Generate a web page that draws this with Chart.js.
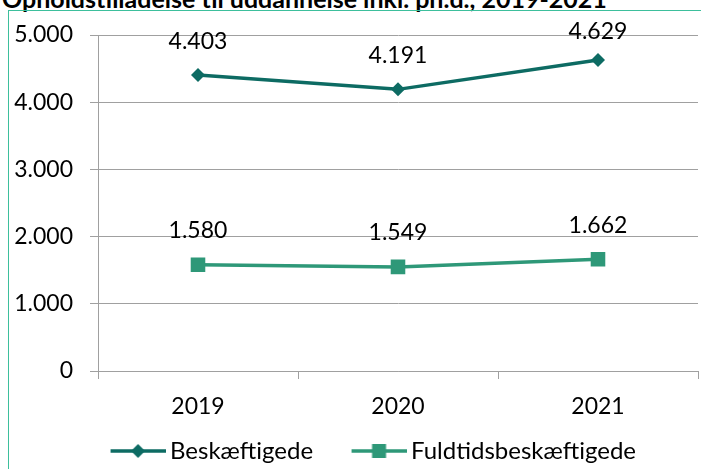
<!DOCTYPE html>
<html>
<head>
<meta charset="utf-8">
<script src="https://cdn.jsdelivr.net/npm/chart.js@4/dist/chart.umd.min.js"></script>
<style>
  html, body { margin: 0; padding: 0; background: #fff; overflow: hidden; }
  #wrap { position: relative; width: 701px; height: 469px; overflow: hidden; }
  #title {
    position: absolute; left: 2px; top: -17px; white-space: nowrap;
    font-family: Lato, sans-serif; font-weight: bold; font-size: 25px; color: #000;
  }
  #frame {
    position: absolute; left: 8px; top: 10px; width: 720px; height: 480px;
    border-top: 1px solid #3dbf9c; border-left: 1px solid #3dbf9c;
  }
  #chart { position: absolute; left: 0; top: 0; }
</style>
</head>
<body>
<div id="wrap">
  <div id="title">Opholdstilladelse til uddannelse inkl. ph.d., 2019-2021</div>
  <div id="frame"></div>
  <canvas id="chart" width="701" height="469"></canvas>
</div>
<script>
const years = ['2019', '2020', '2021'];
const beskaeftigede = [4403, 4191, 4629];
const fuldtids = [1580, 1549, 1662];
const valueLabels1 = ['4.403', '4.191', '4.629'];
const valueLabels2 = ['1.580', '1.549', '1.662'];
const yTickLabels = ['0', '1.000', '2.000', '3.000', '4.000', '5.000'];

const darkTeal = '#0d6b63';
const lightTeal = '#2e9878';
const font = 'Lato, sans-serif';

// legend icon: line with marker, blank space on the left acts as item gap
function legendIcon(color, shape) {
  const c = document.createElement('canvas');
  c.width = 91; c.height = 16;
  const g = c.getContext('2d');
  const x0 = 36;
  g.strokeStyle = color; g.fillStyle = color; g.lineWidth = 3.5;
  g.beginPath(); g.moveTo(x0, 8); g.lineTo(x0 + 55, 8); g.stroke();
  g.beginPath();
  if (shape === 'diamond') {
    g.moveTo(x0 + 27.5, 1); g.lineTo(x0 + 34.5, 8); g.lineTo(x0 + 27.5, 15); g.lineTo(x0 + 20.5, 8);
  } else {
    g.rect(x0 + 20.5, 1, 14, 14);
  }
  g.fill();
  return c;
}

const labelPlugin = {
  id: 'valueLabels',
  afterLayout(chart) {
    // nudge legend to where the original sits
    const lg = chart.legend;
    lg.left += 10; lg.right += 10;
    lg.top += 4; lg.bottom += 4;
  },
  afterDatasetsDraw(chart) {
    const ctx = chart.ctx;
    const sets = [valueLabels1, valueLabels2];
    ctx.save();
    ctx.font = '23px ' + font;
    ctx.fillStyle = '#000';
    ctx.textAlign = 'center';
    ctx.textBaseline = 'middle';
    chart.data.datasets.forEach((ds, i) => {
      chart.getDatasetMeta(i).data.forEach((pt, j) => {
        const y = Math.max(pt.y - 34, chart.chartArea.top - 3);
        ctx.fillText(sets[i][j], pt.x, y);
      });
    });
    ctx.restore();
  }
};

new Chart(document.getElementById('chart'), {
  type: 'line',
  data: {
    labels: years,
    datasets: [{
      label: 'Beskæftigede',
      data: beskaeftigede,
      borderColor: darkTeal,
      backgroundColor: darkTeal,
      borderWidth: 3.5,
      pointStyle: 'rectRot',
      pointRadius: 7,
      pointBorderWidth: 0,
      tension: 0
    }, {
      label: 'Fuldtidsbeskæftigede',
      data: fuldtids,
      borderColor: lightTeal,
      backgroundColor: lightTeal,
      borderWidth: 3.5,
      pointStyle: 'rect',
      pointRadius: 10.3,
      pointBorderWidth: 0,
      tension: 0
    }]
  },
  options: {
    responsive: false,
    animation: false,
    layout: { autoPadding: false, padding: { left: 0, right: 3, top: 35, bottom: 0 } },
    plugins: {
      tooltip: { enabled: false },
      legend: {
        position: 'bottom',
        labels: {
          usePointStyle: true,
          pointStyleWidth: 76,
          padding: 10,
          color: '#000',
          font: { family: font, size: 24 },
          generateLabels(chart) {
            return chart.data.datasets.map((ds, i) => ({
              text: ds.label,
              pointStyle: legendIcon(ds.borderColor, i === 0 ? 'diamond' : 'square'),
              fillStyle: ds.borderColor,
              strokeStyle: ds.borderColor,
              lineWidth: 0,
              hidden: false,
              datasetIndex: i
            }));
          }
        }
      }
    },
    scales: {
      x: {
        offset: true,
        afterFit(s) { s.height = 54; },
        grid: { drawOnChartArea: false, drawTicks: true, tickLength: 8, color: '#a0a0a0', offset: true },
        border: { color: '#a0a0a0', width: 1 },
        ticks: { color: '#000', font: { family: font, size: 23 }, padding: 14, maxRotation: 0 }
      },
      y: {
        min: 0,
        max: 5000,
        afterFit(s) { s.width = 98; },
        grid: { color: '#a0a0a0', tickLength: 8, lineWidth: 1 },
        border: { color: '#a0a0a0', width: 1 },
        ticks: {
          stepSize: 1000,
          color: '#000',
          padding: 17,
          font: { family: font, size: 23 },
          callback: (v) => yTickLabels[Math.round(v / 1000)]
        }
      }
    }
  },
  plugins: [labelPlugin]
});
</script>
</body>
</html>
